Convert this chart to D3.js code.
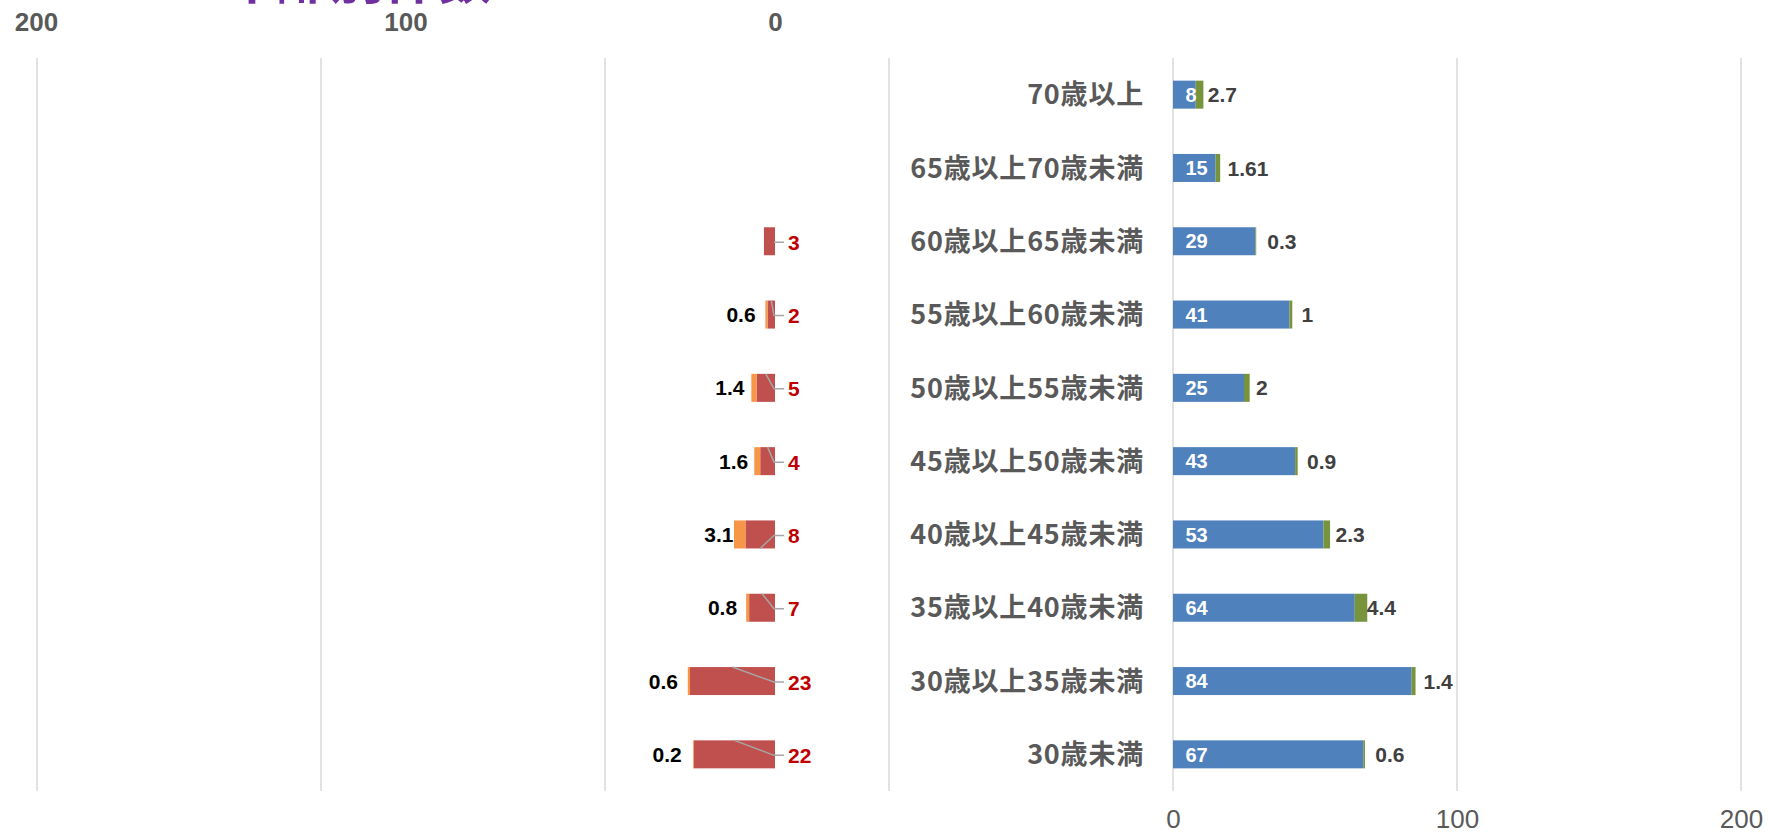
<!DOCTYPE html>
<html>
<head>
<meta charset="utf-8">
<script src="https://cdn.jsdelivr.net/npm/d3@7"></script>
<style>
  html, body { margin: 0; padding: 0; background: #ffffff; overflow: hidden; }
  svg { display: block; }
</style>
</head>
<body>
<svg id="chart" width="1768" height="833"></svg>
<script>
// ---- data ----
const categories = ["70歳以上", "65歳以上70歳未満", "60歳以上65歳未満", "55歳以上60歳未満", "50歳以上55歳未満",
                    "45歳以上50歳未満", "40歳以上45歳未満", "35歳以上40歳未満", "30歳以上35歳未満", "30歳未満"];
const blueValues   = [8, 15, 29, 41, 25, 43, 53, 64, 84, 67];
const greenValues  = [2.7, 1.61, 0.3, 1, 2, 0.9, 2.3, 4.4, 1.4, 0.6];
const redValues    = [0, 0, 3, 2, 5, 4, 8, 7, 23, 22];
const orangeValues = [0, 0, 0, 0.6, 1.4, 1.6, 3.1, 0.8, 0.6, 0.2];
const leaderEnds   = ["none", "none", "none", "top", "top", "top", "bottom", "top", "top", "top"];
const rightTicks = [0, 100, 200];
const rightGrid  = [-400, -300, -200, -100, 0, 100, 200];
const leftTicks  = [0, 100, 200];
const titleText = "年齢別件数";

// ---- layout ----
const svg = d3.select("#chart");
const W = 1768, H = 833;
const gridTop = 58, gridBottom = 791;

const y = d3.scaleBand().domain(categories).range([gridTop, gridBottom]).paddingInner(0.618).paddingOuter(0.309);
const xR = d3.scaleLinear().domain([-400, 200]).range([37, 1741]);
const xL = d3.scaleLinear().domain([0, 200]).range([775, 36]);

const COL = { blue: "#4F81BD", green: "#77933C", red: "#C0504D", orange: "#F79646", grid: "#D9D9D9", axis: "#595959" };

svg.append("rect").attr("width", W).attr("height", H).attr("fill", "#ffffff");

// cut-off purple title
svg.append("text").attr("x", 222).attr("y", -1)
  .attr("font-family", "'Noto Sans CJK JP', sans-serif").attr("font-weight", "bold")
  .attr("font-size", 54).attr("fill", "#7030A0").text(titleText);

// gridlines
svg.append("g").selectAll("line").data(rightGrid).join("line")
  .attr("x1", d => xR(d)).attr("x2", d => xR(d))
  .attr("y1", gridTop).attr("y2", gridBottom)
  .attr("stroke", COL.grid).attr("stroke-width", 1.5);

// bottom axis (right chart)
const axB = svg.append("g").attr("transform", `translate(0,${gridBottom})`)
  .call(d3.axisBottom(xR).tickValues(rightTicks).tickSize(0).tickPadding(19).tickFormat(d3.format("d")));
axB.select(".domain").remove();
axB.selectAll("text").attr("font-family", "'Liberation Sans', Arial, sans-serif")
  .attr("font-size", 26).attr("fill", COL.axis);

// top axis (left chart)
const axT = svg.append("g").attr("transform", `translate(0,40)`)
  .call(d3.axisTop(xL).tickValues(leftTicks).tickSize(0).tickPadding(9).tickFormat(d3.format("d")));
axT.select(".domain").remove();
axT.selectAll("text").attr("font-family", "'Liberation Sans', Arial, sans-serif")
  .attr("font-size", 26).attr("font-weight", "bold").attr("fill", COL.axis);

const rows = categories.map((c, i) => ({
  c, blue: blueValues[i], green: greenValues[i], red: redValues[i], orange: orangeValues[i], leader: leaderEnds[i]
}));
const cy = d => y(d.c) + y.bandwidth() / 2;

// right bars
svg.append("g").selectAll("rect").data(rows).join("rect")
  .attr("x", d => xR(0)).attr("y", d => y(d.c))
  .attr("width", d => xR(d.blue) - xR(0)).attr("height", y.bandwidth()).attr("fill", COL.blue);
svg.append("g").selectAll("rect").data(rows).join("rect")
  .attr("x", d => xR(d.blue)).attr("y", d => y(d.c))
  .attr("width", d => xR(d.blue + d.green) - xR(d.blue)).attr("height", y.bandwidth()).attr("fill", COL.green);

// left bars
svg.append("g").selectAll("rect").data(rows.filter(d => d.red > 0)).join("rect")
  .attr("x", d => xL(d.red)).attr("y", d => y(d.c))
  .attr("width", d => xL(0) - xL(d.red)).attr("height", y.bandwidth()).attr("fill", COL.red);
svg.append("g").selectAll("rect").data(rows.filter(d => d.orange > 0)).join("rect")
  .attr("x", d => xL(d.red + d.orange)).attr("y", d => y(d.c))
  .attr("width", d => xL(d.red) - xL(d.red + d.orange)).attr("height", y.bandwidth()).attr("fill", COL.orange);

// category labels
svg.append("g").selectAll("text").data(rows).join("text")
  .attr("x", 1144).attr("y", d => cy(d)).attr("dy", "0.36em")
  .attr("text-anchor", "end")
  .attr("font-family", "'Noto Sans CJK JP', sans-serif").attr("font-weight", "bold")
  .attr("font-size", 27).attr("letter-spacing", 0.8).attr("fill", COL.axis)
  .text(d => d.c);

const lblFont = "'Liberation Sans', Arial, sans-serif";
// blue labels
svg.append("g").selectAll("text").data(rows).join("text")
  .attr("x", xR(0) + 12.5).attr("y", d => cy(d)).attr("dy", "0.36em")
  .attr("font-family", lblFont).attr("font-weight", "bold").attr("font-size", 20)
  .attr("fill", "#ffffff").text(d => d.blue);
// green labels
svg.append("g").selectAll("text").data(rows).join("text")
  .attr("x", d => xR(d.blue) + 12).attr("y", d => cy(d)).attr("dy", "0.36em")
  .attr("font-family", lblFont).attr("font-weight", "bold").attr("font-size", 21)
  .attr("fill", "#404040").text(d => d.green);
// orange labels
svg.append("g").selectAll("text").data(rows.filter(d => d.orange > 0)).join("text")
  .attr("x", d => xL(d.red) - 12).attr("y", d => cy(d)).attr("dy", "0.36em")
  .attr("text-anchor", "end")
  .attr("font-family", lblFont).attr("font-weight", "bold").attr("font-size", 21)
  .attr("fill", "#000000").text(d => d.orange);

// red labels with leader lines
const redRows = rows.filter(d => d.red > 0);
const redX = xL(0) + 13;
svg.append("g").selectAll("path").data(redRows).join("path")
  .attr("d", d => {
    const ly = cy(d) + 1;
    const pts = [[redX - 4, ly], [xL(0) - 1, ly]];
    const cx = (xL(0) + xL(d.red)) / 2;
    if (d.leader === "top") pts.push([cx, y(d.c)]);
    else if (d.leader === "bottom") pts.push([cx, y(d.c) + y.bandwidth()]);
    return d3.line()(pts);
  })
  .attr("fill", "none").attr("stroke", "#A6A6A6").attr("stroke-width", 1.5);
svg.append("g").selectAll("text").data(redRows).join("text")
  .attr("x", redX).attr("y", d => cy(d) + 1).attr("dy", "0.36em")
  .attr("font-family", lblFont).attr("font-weight", "bold").attr("font-size", 21)
  .attr("fill", "#C00000").text(d => d.red);
</script>
</body>
</html>
